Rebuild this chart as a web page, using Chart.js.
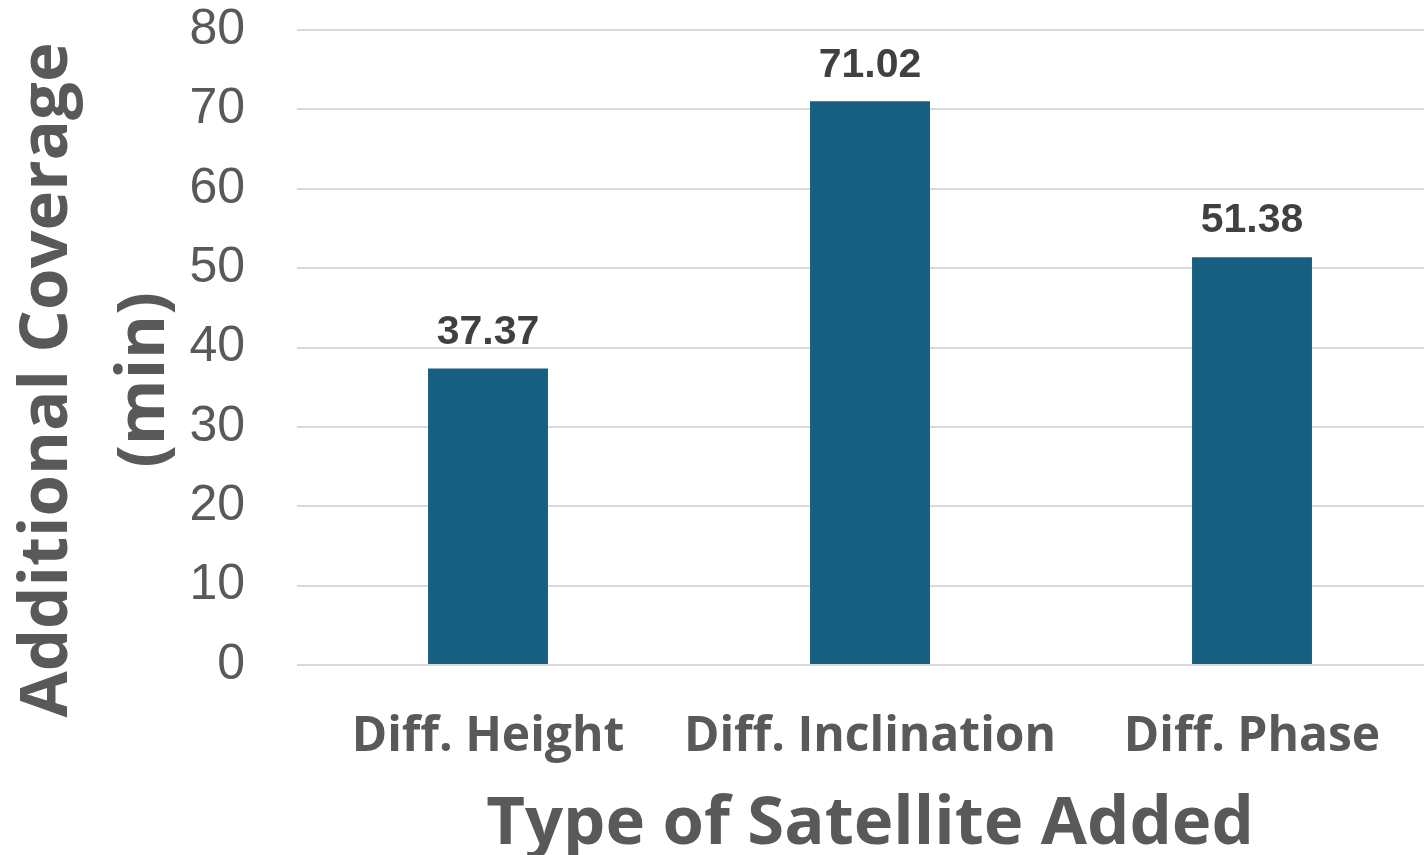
<!DOCTYPE html>
<html>
<head>
<meta charset="utf-8">
<script src="https://cdn.jsdelivr.net/npm/chart.js@4.4.0/dist/chart.umd.min.js"></script>
<style>
  html, body { margin: 0; padding: 0; background: #fff; overflow: hidden; }
  #wrap { width: 1445px; height: 855px; }
</style>
</head>
<body>
<div id="wrap"><canvas id="chart"></canvas></div>
<script>
const categories = ["Diff. Height", "Diff. Inclination", "Diff. Phase"];
const coverage = [37.37, 71.02, 51.38];
const yTicks = [0, 10, 20, 30, 40, 50, 60, 70, 80];
const yTitleLines = ["Additional Coverage", "(min)"];

const barColor = "#165f80";
const textColor = "#595959";
const titleFont = "'Open Sans', 'Noto Sans', sans-serif";

// values above each bar
const barLabels = {
  id: "barLabels",
  afterDatasetsDraw(chart) {
    const ctx = chart.ctx;
    const meta = chart.getDatasetMeta(0);
    ctx.save();
    ctx.font = "bold 41px 'Liberation Sans', Arial, sans-serif";
    ctx.fillStyle = "#404040";
    ctx.textAlign = "center";
    ctx.textBaseline = "middle";
    meta.data.forEach((bar, i) => {
      ctx.fillText(coverage[i].toFixed(2), bar.x, bar.y - 36);
    });
    ctx.restore();
  }
};

// y title sits a bit lower than the plot centre in the original, so draw it here
const yTitle = {
  id: "yTitle",
  afterDraw(chart) {
    const ctx = chart.ctx;
    ctx.save();
    ctx.translate(0, 380);
    ctx.rotate(-Math.PI / 2);
    ctx.font = "bold 67px " + titleFont;
    ctx.fillStyle = textColor;
    ctx.textAlign = "center";
    ctx.textBaseline = "middle";
    yTitleLines.forEach((line, i) => {
      ctx.fillText(line, 0, 48 + i * 97);
    });
    ctx.restore();
  }
};

new Chart(document.getElementById("chart"), {
  type: "bar",
  data: {
    labels: categories,
    datasets: [{
      data: coverage,
      backgroundColor: barColor,
      barPercentage: 0.314,
      categoryPercentage: 1
    }]
  },
  options: {
    responsive: true,
    maintainAspectRatio: false,
    animation: false,
    layout: { padding: { top: 30, right: 2, bottom: 0, left: 0 } },
    plugins: {
      legend: { display: false },
      tooltip: { enabled: false }
    },
    scales: {
      x: {
        afterFit(axis) { axis.height = 190; },
        grid: { display: false },
        border: { display: false },
        ticks: {
          color: textColor,
          font: { family: titleFont, size: 48, weight: "bold" },
          padding: 36
        },
        title: {
          display: true,
          text: "Type of Satellite Added",
          color: textColor,
          font: { family: titleFont, size: 67, weight: "bold", lineHeight: 0.9 },
          padding: { top: 0, bottom: 0 }
        }
      },
      y: {
        min: 0,
        max: 80,
        afterFit(axis) {
          axis.width = 297;
          axis.paddingTop = 0;
          axis.paddingBottom = 0;
        },
        afterBuildTicks(axis) {
          axis.ticks = yTicks.map(v => ({ value: v }));
        },
        grid: { color: "#d9d9d9", lineWidth: 2, drawTicks: false },
        border: { display: false },
        ticks: {
          color: textColor,
          font: { family: "'Liberation Sans', Arial, sans-serif", size: 50 },
          padding: 52
        },
        title: { display: false }
      }
    }
  },
  plugins: [barLabels, yTitle]
});
</script>
</body>
</html>
